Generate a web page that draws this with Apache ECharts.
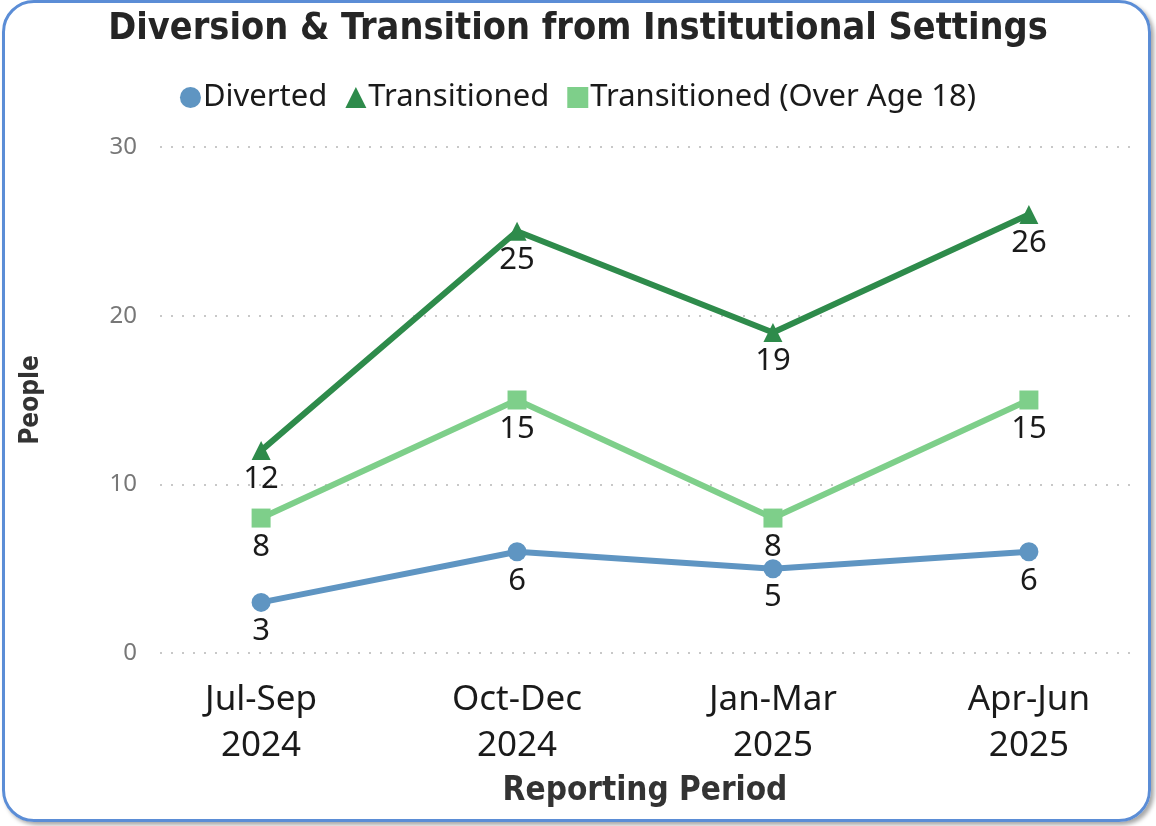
<!DOCTYPE html>
<html><head><meta charset="utf-8">
<script src="https://cdn.jsdelivr.net/npm/echarts@6/dist/echarts.min.js"></script>
<style>
html,body{margin:0;padding:0;background:#fff;}
#wrap{position:relative;width:1156px;height:826px;overflow:hidden;background:#fff;}
#chart{position:absolute;left:0;top:0;width:1156px;height:826px;}
#frame{position:absolute;left:2px;top:0px;width:1143px;height:816px;border:3px solid #5b8dd6;border-radius:32px;box-shadow:3px 3px 4px rgba(0,0,0,0.35);pointer-events:none;}
</style></head>
<body>
<div id="wrap"><div id="chart"></div><div id="frame"></div></div>
<script>
const categories = ['Jul-Sep\n2024', 'Oct-Dec\n2024', 'Jan-Mar\n2025', 'Apr-Jun\n2025'];
const diverted = [3, 6, 5, 6];
const transitioned = [12, 25, 19, 26];
const transitionedOver18 = [8, 15, 8, 15];
const yTicks = [0, 10, 20, 30];

const sansFont = '"Segoe UI", "Noto Sans", sans-serif';
const titleFont = '"DejaVu Sans Condensed", "DejaVu Sans", sans-serif';

function pts(arr) { return arr.map((v, i) => [i, v]); }

const labelStyle = {
  show: true, position: 'bottom', distance: 4,
  fontFamily: sansFont, fontSize: 31, color: '#1a1a1a'
};

const chart = echarts.init(document.getElementById('chart'), null, {renderer: 'canvas'});
chart.setOption({
  animation: false,
  backgroundColor: 'transparent',
  title: {
    text: 'Diversion & Transition from Institutional Settings',
    left: 'center', top: 5,
    textStyle: {fontFamily: titleFont, fontWeight: 'bold', fontSize: 37.5, color: '#252525'}
  },
  legend: {
    top: 77, left: 'center',
    itemWidth: 21, itemHeight: 21, itemGap: 18,
    textStyle: {fontFamily: sansFont, fontSize: 31, color: '#1a1a1a', padding: [0, 0, 0, -3]},
    data: [
      {name: 'Diverted', icon: 'circle'},
      {name: 'Transitioned', icon: 'triangle'},
      {name: 'Transitioned (Over Age 18)', icon: 'rect'}
    ]
  },
  grid: {left: 160, right: 26, top: 147, bottom: 173, containLabel: false},
  xAxis: {
    type: 'value', min: -0.395, max: 3.395,
    name: 'Reporting Period', nameLocation: 'middle', nameGap: 122,
    nameTextStyle: {fontFamily: titleFont, fontWeight: 'bold', fontSize: 33, color: '#333'},
    axisLine: {show: false}, axisTick: {show: false}, splitLine: {show: false},
    axisLabel: {
      customValues: [0, 1, 2, 3],
      formatter: v => categories[Math.round(v)],
      fontFamily: sansFont, fontSize: 35, color: '#1a1a1a', lineHeight: 46, margin: 24
    }
  },
  yAxis: {
    type: 'value', min: yTicks[0], max: yTicks[yTicks.length - 1], interval: 10,
    name: 'People', nameLocation: 'middle', nameGap: 116,
    nameTextStyle: {fontFamily: titleFont, fontWeight: 'bold', fontSize: 26, color: '#333'},
    axisLine: {show: false}, axisTick: {show: false},
    axisLabel: {fontFamily: sansFont, fontSize: 24, color: '#777', margin: 23},
    splitLine: {show: true, lineStyle: {type: [2, 9], color: '#c8c8c8', width: 2}}
  },
  series: [
    {
      name: 'Diverted', type: 'line', data: pts(diverted),
      symbol: 'circle', symbolSize: 19,
      lineStyle: {width: 6, color: '#5f95c2'}, itemStyle: {color: '#5f95c2'},
      label: labelStyle
    },
    {
      name: 'Transitioned', type: 'line', data: pts(transitioned),
      symbol: 'triangle', symbolSize: 19,
      lineStyle: {width: 6, color: '#2e8b4b'}, itemStyle: {color: '#2e8b4b'},
      label: labelStyle
    },
    {
      name: 'Transitioned (Over Age 18)', type: 'line', data: pts(transitionedOver18),
      symbol: 'rect', symbolSize: 19,
      lineStyle: {width: 6, color: '#7ecf8a'}, itemStyle: {color: '#7ecf8a'},
      label: labelStyle
    }
  ]
});
</script>
</body></html>
